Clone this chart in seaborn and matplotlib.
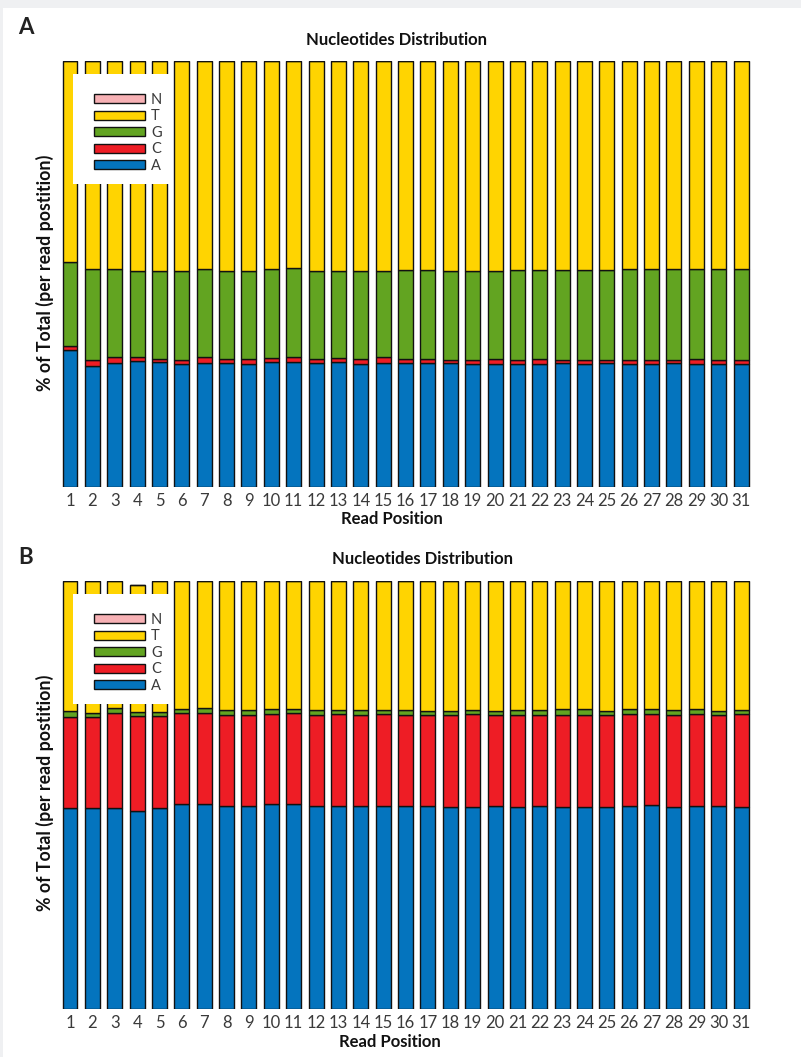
import numpy as np
import pandas as pd
import matplotlib
matplotlib.use("Agg")
import matplotlib.pyplot as plt
from matplotlib.patches import Patch, Rectangle
import seaborn as sns

# Read positions along the x axis
positions = [str(i) for i in range(1, 32)]
nucleotides = ["A", "C", "G", "T", "N"]
colors = {"A": "#0474BE", "C": "#EE1D25", "G": "#62A421", "T": "#FFD401", "N": "#F7B1B5"}

# Panel A: percentage of each base per read position
a_A = [32.2, 28.4, 29.2, 29.6, 29.3, 28.9, 29.2, 29.0, 28.9, 29.3, 29.3, 29.1, 29.3, 28.9, 29.2, 29.0,
       29.2, 29.0, 28.9, 28.9, 28.9, 28.9, 29.0, 28.9, 29.0, 28.9, 28.9, 29.0, 28.9, 28.9, 28.9]
a_C = [1.0, 1.3, 1.3, 1.0, 0.8, 0.9, 1.3, 1.0, 1.2, 0.9, 1.1, 0.9, 1.0, 1.2, 1.2, 1.0,
       0.8, 0.8, 0.9, 1.1, 0.9, 1.1, 0.8, 0.9, 0.9, 0.9, 0.8, 0.8, 1.1, 0.9, 0.8]
a_G = [19.6, 21.5, 20.6, 20.2, 20.5, 20.9, 20.7, 20.7, 20.7, 21.0, 20.9, 20.7, 20.5, 20.7, 20.4, 21.0,
       21.0, 20.9, 20.8, 20.6, 21.1, 20.9, 21.1, 21.1, 21.1, 21.3, 21.4, 21.3, 21.1, 21.3, 21.4]
a_T = [47.2, 48.8, 48.9, 49.2, 49.4, 49.3, 48.8, 49.3, 49.2, 48.8, 48.7, 49.3, 49.2, 49.2, 49.2, 49.0,
       49.0, 49.3, 49.4, 49.4, 49.1, 49.1, 49.1, 49.1, 49.0, 48.9, 48.9, 48.9, 48.9, 48.9, 48.9]
a_N = [0.0] * 31

# Panel B: percentage of each base per read position
b_A = [46.9, 46.9, 46.9, 46.3, 47.0, 47.8, 47.8, 47.5, 47.5, 47.8, 47.9, 47.5, 47.5, 47.5, 47.5, 47.5,
       47.5, 47.3, 47.3, 47.4, 47.3, 47.4, 47.3, 47.3, 47.3, 47.5, 47.6, 47.3, 47.4, 47.4, 47.3]
b_C = [21.4, 21.4, 22.3, 22.2, 21.5, 21.3, 21.3, 21.2, 21.2, 21.1, 21.3, 21.2, 21.4, 21.2, 21.4, 21.1,
       21.2, 21.3, 21.6, 21.3, 21.4, 21.3, 21.5, 21.5, 21.4, 21.5, 21.3, 21.5, 21.6, 21.3, 21.6]
b_G = [1.3, 0.8, 1.1, 0.8, 1.0, 1.0, 1.2, 1.1, 1.1, 1.2, 1.0, 1.1, 0.9, 1.1, 0.9, 1.2,
       0.9, 1.1, 1.0, 0.9, 1.2, 1.2, 1.2, 1.3, 0.9, 1.0, 1.2, 1.0, 1.1, 0.9, 1.0]
b_T = [30.4, 30.9, 29.7, 29.7, 30.5, 29.9, 29.7, 30.2, 30.2, 29.9, 29.8, 30.2, 30.2, 30.2, 30.2, 30.2,
       30.4, 30.3, 30.1, 30.4, 30.1, 30.1, 30.0, 29.9, 30.4, 30.0, 29.9, 30.2, 29.9, 30.4, 30.1]
b_N = [0.0] * 31

panels = {
    "A": {"A": a_A, "C": a_C, "G": a_G, "T": a_T, "N": a_N},
    "B": {"A": b_A, "C": b_C, "G": b_G, "T": b_T, "N": b_N},
}

sns.set_theme(style="white")
plt.rcParams["font.family"] = ["Lato", "DejaVu Sans"]

W, H = 801, 1057
fig = plt.figure(figsize=(W / 100, H / 100), dpi=100)
fig.patch.set_facecolor("white")

# light grey page margin along the top and left
fig.patches.append(Rectangle((0, 1 - 8 / H), 1, 8 / H, transform=fig.transFigure,
                             facecolor="#eff0f2", edgecolor="none", zorder=0))
fig.patches.append(Rectangle((0, 0), 3 / W, 1, transform=fig.transFigure,
                             facecolor="#eff0f2", edgecolor="none", zorder=0))

step = 22.37
ax_left = 70 - step / 2
ax_width = step * 31

layout = {
    # name: (axes top px, axes bottom px, title centre x, title y, letter y, xlabel y, ylabel y, xlabel x)
    "A": (61, 487, 397, 40, 28, 519, 273, 392),
    "B": (581, 1009, 423, 559, 557, 1042, 793, 390),
}

for name, (top, bottom, tx, ty, ly, xly, yly, xlx) in layout.items():
    ax = fig.add_axes([ax_left / W, 1 - bottom / H, ax_width / W, (bottom - top) / H])
    data = panels[name]
    base = np.zeros(len(positions))
    for nt in nucleotides:
        vals = np.array(data[nt], dtype=float)
        sns.barplot(x=positions, y=vals, order=positions, bottom=base, color=colors[nt],
                    saturation=1, width=0.67, edgecolor="#111111", linewidth=1.0,
                    errorbar=None, ax=ax)
        base = base + vals
    ax.set_xlim(-0.5, 30.5)
    ax.set_ylim(0, 100)
    ax.set_yticks([])
    ax.set_xlabel("")
    ax.set_ylabel("")
    for s in ax.spines.values():
        s.set_visible(False)
    ax.tick_params(axis="x", length=0, pad=4)
    for lab in ax.get_xticklabels():
        lab.set_fontsize(12)
        lab.set_color("#3a3a3a")

    # white legend panel
    hgt = bottom - top
    bx0, by0, bx1, by1 = 73, top + 13, 173, top + 123
    ax.add_patch(Rectangle(((bx0 - ax_left) / ax_width, 1 - (by1 - top) / hgt),
                           (bx1 - bx0) / ax_width, (by1 - by0) / hgt,
                           transform=ax.transAxes, facecolor="white", edgecolor="none",
                           zorder=5, clip_on=False))
    handles = [Patch(facecolor=colors[nt], edgecolor="#111111", linewidth=1.0)
               for nt in ["N", "T", "G", "C", "A"]]
    leg = ax.legend(handles, ["N", "T", "G", "C", "A"], loc="upper left",
                    bbox_to_anchor=((94 - ax_left) / ax_width, 1 - 32 / hgt),
                    frameon=False, fontsize=10.5, handlelength=3.5, handleheight=0.55,
                    handletextpad=0.41, labelspacing=0.17, borderaxespad=0, borderpad=0)
    leg.set_zorder(6)
    for t in leg.get_texts():
        t.set_color("#3a3a3a")

    fig.text(tx / W, 1 - ty / H, "Nucleotides Distribution", ha="center", va="center",
             fontsize=12, fontweight="bold", color="#111111")
    fig.text(18 / W, 1 - ly / H, name, ha="left", va="center", fontsize=16,
             fontweight="bold", color="#222222")
    fig.text(xlx / W, 1 - xly / H, "Read Position", ha="center", va="center",
             fontsize=12, fontweight="bold", color="#111111")
    fig.text(45 / W, 1 - yly / H, "% of Total (per read postition)", ha="center", va="center",
             rotation=90, fontsize=12.8, fontweight="bold", color="#111111")

fig.savefig("out.png", dpi=100, facecolor="white")
